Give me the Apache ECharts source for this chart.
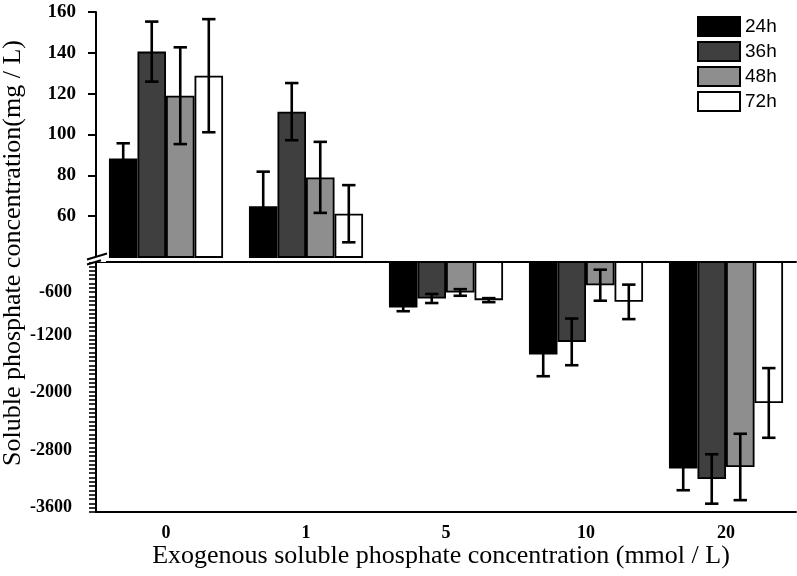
<!DOCTYPE html>
<html>
<head>
<meta charset="utf-8">
<script src="https://cdn.jsdelivr.net/npm/echarts@6/dist/echarts.min.js"></script>
<style>html,body{margin:0;padding:0;background:#fff;}#c{width:797px;height:576px;}</style>
</head>
<body>
<div id="c"></div>
<script>
// ---- data ----
const categories = ['0', '1', '5', '10', '20'];
const seriesNames = ['24h', '36h', '48h', '72h'];
// mean values (mg / L) per category
const mean24 = [88.3, 64.9, -813, -1468, -3055];
const mean36 = [140.6, 111.2, -688, -1292, -3200];
const mean48 = [119.0, 79.0, -604, -503, -3033];
const mean72 = [128.8, 61.2, -711, -735, -2142];
// error (±) per category
const err24 = [7.4, 16.9, 52, 302, 302];
const err36 = [14.7, 14.0, 63, 325, 344];
const err48 = [23.7, 17.4, 46, 216, 462];
const err72 = [27.7, 14.0, 28, 240, 485];
// tick labels
const upperTickLabels = ['60', '80', '100', '120', '140', '160'];
const lowerTickLabels = ['-600', '-1200', '-2000', '-2800', '-3600'];

const means = [mean24, mean36, mean48, mean72];
const errs = [err24, err36, err48, err72];
const colors = ['#000000', '#3f3f3f', '#8e8e8e', '#ffffff'];

const CAT_GAP = 0.185;
const serif = 'Liberation Serif';

const series = [];
// bars
for (let s = 0; s < 4; s++) {
  series.push({
    name: seriesNames[s], type: 'bar', xAxisIndex: 0, yAxisIndex: 0,
    data: means[s].map(v => v > 0 ? v : null),
    barGap: '0%', barCategoryGap: (CAT_GAP * 100) + '%', clip: true,
    itemStyle: { color: colors[s], borderColor: '#000', borderWidth: 1.8 },
    emphasis: { disabled: true }, z: 2
  });
  series.push({
    name: seriesNames[s], type: 'bar', xAxisIndex: 1, yAxisIndex: 1,
    data: means[s].map(v => v < 0 ? v : null),
    barGap: '0%', barCategoryGap: (CAT_GAP * 100) + '%', clip: true,
    itemStyle: { color: colors[s], borderColor: '#000', borderWidth: 1.8 },
    emphasis: { disabled: true }, z: 2
  });
}

function renderErr(params, api) {
  const c = api.value(0), m = api.value(1), e = api.value(2), s = api.value(3);
  const band = api.size([1, 0])[0];
  const bw = band * (1 - CAT_GAP) / 4;
  const x = api.coord([c, m])[0] + (s - 1.5) * bw;
  const yHi = api.coord([c, m + e])[1];
  const yLo = api.coord([c, m - e])[1];
  const cap = 6.7;
  const st = { stroke: '#000', lineWidth: 2.6 };
  return {
    type: 'group', children: [
      { type: 'line', shape: { x1: x, y1: yHi, x2: x, y2: yLo }, style: st },
      { type: 'line', shape: { x1: x - cap, y1: yHi, x2: x + cap, y2: yHi }, style: st },
      { type: 'line', shape: { x1: x - cap, y1: yLo, x2: x + cap, y2: yLo }, style: st }
    ]
  };
}
const errUpper = [], errLower = [];
for (let s = 0; s < 4; s++) {
  for (let c = 0; c < categories.length; c++) {
    const item = [c, means[s][c], errs[s][c], s];
    if (means[s][c] > 0) errUpper.push(item); else errLower.push(item);
  }
}
series.push({ type: 'custom', xAxisIndex: 0, yAxisIndex: 0, renderItem: renderErr, data: errUpper, clip: true, z: 5, silent: true });
series.push({ type: 'custom', xAxisIndex: 1, yAxisIndex: 1, renderItem: renderErr, data: errLower, clip: true, z: 5, silent: true });

const lineStyle = { color: '#000', width: 2 };
const option = {
  backgroundColor: '#fff',
  animation: false,
  grid: [
    { left: 96, top: 12, width: 700, height: 245 },
    { left: 96, top: 262, width: 700, height: 250 }
  ],
  legend: {
    data: seriesNames, orient: 'vertical', left: 697, top: 16, padding: 0,
    itemWidth: 42, itemHeight: 19, itemGap: 4, icon: 'rect',
    textStyle: { fontFamily: 'Liberation Sans', fontSize: 19, color: '#000', lineHeight: 19, padding: [0, 0, 0, 0] },
    selectedMode: false
  },
  xAxis: [
    { type: 'category', gridIndex: 0, data: categories, show: false },
    {
      type: 'category', gridIndex: 1, data: categories, position: 'bottom',
      axisLine: { lineStyle: lineStyle },
      axisTick: { alignWithLabel: true, length: 4, lineStyle: { color: '#000', width: 2 } },
      axisLabel: { color: '#000', fontFamily: serif, fontWeight: 'bold', fontSize: 18, margin: 12 }
    },
    {
      type: 'category', gridIndex: 1, data: categories, position: 'top',
      axisLine: { lineStyle: lineStyle }, axisTick: { show: false }, axisLabel: { show: false }
    }
  ],
  yAxis: [
    {
      type: 'value', gridIndex: 0, min: 40, max: 160, interval: 20,
      splitLine: { show: false },
      axisLine: { show: true, lineStyle: lineStyle },
      axisTick: { show: true, length: 8, customValues: upperTickLabels.map(Number), lineStyle: { color: '#000', width: 2 } },
      axisLabel: {
        customValues: upperTickLabels.map(Number), formatter: v => String(v),
        color: '#000', fontFamily: serif, fontWeight: 'bold', fontSize: 19, margin: 20
      }
    },
    {
      type: 'value', gridIndex: 1, min: -3660, max: -180, interval: 60,
      splitLine: { show: false },
      axisLine: { show: true, lineStyle: lineStyle },
      axisTick: { show: true, length: 7, lineStyle: { color: '#000', width: 1.6 } },
      axisLabel: {
        customValues: lowerTickLabels.map(Number), formatter: v => String(v),
        color: '#000', fontFamily: serif, fontWeight: 'bold', fontSize: 18, margin: 24
      }
    }
  ],
  graphic: [
    {
      type: 'text', x: 13, y: 253, rotation: Math.PI / 2,
      style: { text: 'Soluble phosphate concentration(mg / L)', fontFamily: serif, fontSize: 26, fill: '#000', align: 'center', verticalAlign: 'middle' }
    },
    {
      type: 'text', x: 441, y: 556,
      style: { text: 'Exogenous soluble phosphate concentration (mmol / L)', fontFamily: serif, fontSize: 26, fill: '#000', align: 'center', verticalAlign: 'middle' }
    },
    { type: 'rect', shape: { x: 86, y: 257, width: 20, height: 5 }, style: { fill: '#fff' }, z: 100 },
    { type: 'line', shape: { x1: 87, y1: 259.5, x2: 107, y2: 253.5 }, style: { stroke: '#000', lineWidth: 2 }, z: 101 },
    { type: 'line', shape: { x1: 87, y1: 264.5, x2: 101, y2: 260.3 }, style: { stroke: '#000', lineWidth: 2 }, z: 101 }
  ],
  series: series
};
const chart = echarts.init(document.getElementById('c'), null, { renderer: 'canvas' });
chart.setOption(option);
</script>
</body>
</html>
